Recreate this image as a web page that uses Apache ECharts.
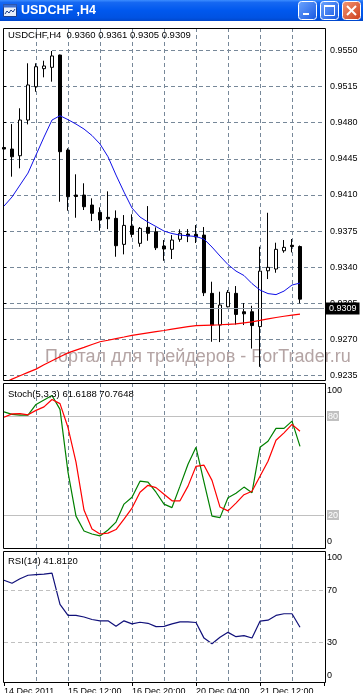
<!DOCTYPE html>
<html><head><meta charset="utf-8">
<script src="https://cdn.jsdelivr.net/npm/echarts@6/dist/echarts.min.js"></script>
<style>html,body{margin:0;padding:0;background:#fff}#c{width:363px;height:693px}</style>
</head><body><div id="c"></div><script>
// ---------------- DATA ----------------
const symbol = 'USDCHF';
const period = 'H4';
const times = [
  '14 Dec 04:00','14 Dec 08:00','14 Dec 12:00','14 Dec 16:00','14 Dec 20:00',
  '15 Dec 00:00','15 Dec 04:00','15 Dec 08:00','15 Dec 12:00','15 Dec 16:00','15 Dec 20:00',
  '16 Dec 00:00','16 Dec 04:00','16 Dec 08:00','16 Dec 12:00','16 Dec 16:00','16 Dec 20:00',
  '19 Dec 00:00','19 Dec 04:00','19 Dec 08:00','19 Dec 12:00','19 Dec 16:00','19 Dec 20:00',
  '20 Dec 00:00','20 Dec 04:00','20 Dec 08:00','20 Dec 12:00','20 Dec 16:00','20 Dec 20:00',
  '21 Dec 00:00','21 Dec 04:00','21 Dec 08:00','21 Dec 12:00','21 Dec 16:00','21 Dec 20:00',
  '22 Dec 00:00','22 Dec 04:00','22 Dec 08:00'
];
const timeTickLabels = ['14 Dec 2011','15 Dec 12:00','16 Dec 20:00','20 Dec 04:00','21 Dec 12:00'];
const open  = [0.94560,0.94545,0.94480,0.94826,0.95149,0.95324,0.95337,0.95456,0.94535,0.94099,0.94099,0.94002,0.93931,0.93883,0.93873,0.93621,0.93799,0.93631,0.93786,0.93743,0.93605,0.93573,0.93670,0.93721,0.93718,0.93711,0.93146,0.92839,0.93016,0.93146,0.92968,0.92968,0.92824,0.93365,0.93382,0.93559,0.93612,0.9360];
const high  = [0.94616,0.94787,0.94940,0.95376,0.95376,0.95401,0.95495,0.95460,0.94552,0.94300,0.94213,0.94067,0.93980,0.94135,0.93950,0.93905,0.93912,0.93789,0.93992,0.93786,0.93663,0.93711,0.93767,0.93769,0.93808,0.93789,0.93259,0.93162,0.93178,0.93217,0.93052,0.93026,0.93598,0.93927,0.93637,0.93663,0.93673,0.9361];
const low   = [0.94448,0.94277,0.94358,0.94784,0.95100,0.95240,0.95198,0.94034,0.93947,0.93879,0.93954,0.93847,0.93753,0.93769,0.93501,0.93524,0.93689,0.93598,0.93656,0.93566,0.93462,0.93479,0.93646,0.93643,0.93634,0.93120,0.92677,0.92674,0.93010,0.92844,0.92839,0.92611,0.92434,0.93285,0.93346,0.93540,0.93543,0.9305];
const close = [0.94545,0.94470,0.94826,0.95166,0.95343,0.95350,0.95447,0.94519,0.94083,0.94085,0.93986,0.93922,0.93857,0.93869,0.93608,0.93805,0.93718,0.93776,0.93728,0.93588,0.93576,0.93663,0.93728,0.93702,0.93692,0.93152,0.92839,0.93033,0.93156,0.92942,0.92948,0.92834,0.93362,0.93398,0.93573,0.93592,0.93600,0.9309];
const maFast = [0.93992,0.94080,0.94196,0.94312,0.94487,0.94661,0.94826,0.94868,0.94830,0.94787,0.94739,0.94676,0.94594,0.94470,0.94293,0.94128,0.93973,0.93886,0.93837,0.93794,0.93750,0.93726,0.93711,0.93704,0.93697,0.93672,0.93595,0.93508,0.93425,0.93362,0.93319,0.93241,0.93178,0.93144,0.93134,0.93168,0.93227,0.93246];
const maSlow = [0.92276,0.92315,0.92347,0.92380,0.92412,0.92454,0.92493,0.92531,0.92569,0.92596,0.92623,0.92651,0.92677,0.92692,0.92708,0.92723,0.92739,0.92751,0.92763,0.92775,0.92786,0.92799,0.92811,0.92823,0.92833,0.92836,0.92839,0.92842,0.92846,0.92850,0.92860,0.92870,0.92884,0.92899,0.92912,0.92924,0.92936,0.92945];
const stochMain = [82.5,81,80.5,80.5,87,89.7,92.4,84,46,19.3,10.3,8.5,7.3,10.9,15.7,26.6,30.8,40.5,39.9,33.8,26.6,24.5,37.5,50.8,61,39.9,19.3,18.4,30.5,33.2,36.9,33.5,61,64.7,72.5,72.5,76.9,61.6188];
const stochSignal = [79.2,81.3,81.4,80.7,83.4,85.5,90,87.5,73,52,23,11.5,8.5,9,11.2,17.5,24.2,33.8,38,36.6,32.6,28.6,28.6,37.5,49.5,50.2,41,24.8,22.5,27.2,32.3,34.4,43.5,52.6,65.3,69.8,74.9,70.7648];
const rsi = [77.7,75.4,78.8,81.5,81.9,82.3,83.1,59.2,50.8,50.8,49.6,47.7,46.7,46.7,42.5,46.7,44.4,45.6,44.8,42.3,42.5,44.4,45.9,45.9,45.4,33.5,29.2,34.1,37.9,34.6,35.4,33.6,46.4,47.2,50.8,52.1,52.1,41.8120];
const priceAxis = {min: 0.9235, max: 0.9550, step: 0.0035};
const stochLevels = [80, 20];
const rsiLevels = [70, 30];
const watermark = 'Портал для трейдеров - ForTrader.ru';

// ---------------- LAYOUT ----------------
const FONT = '"Liberation Sans", Arial, sans-serif';
const GRID_COLOR = '#778899';
const padCats = ['', '', ''];
const xCats = times.concat(padCats);
const last = times.length - 1;
const pxPerUnit = 325 / (priceAxis.max - priceAxis.min);
const mainMax = priceAxis.max + (50.5 - 28) / pxPerUnit;
const mainMin = priceAxis.min - (380 - 375.5) / pxPerUnit;
const vSplit = {show: true, interval: (i) => i > 0 && i < xCats.length - 1 && i % 4 === 0,
  lineStyle: {color: GRID_COLOR, type: [4, 3], width: 1}};

function catAxis(gi, extra) {
  return Object.assign({type: 'category', gridIndex: gi, data: xCats, boundaryGap: false,
    axisLine: {show: false}, axisTick: {show: false}, axisLabel: {show: false}, splitLine: vSplit}, extra || {});
}

const hdr = `${symbol},${period}  ${open[last].toFixed(4)} ${high[last].toFixed(4)} ${low[last].toFixed(4)} ${close[last].toFixed(4)}`;
const stochHdr = `Stoch(5,3,3) ${stochMain[last].toFixed(4)} ${stochSignal[last].toFixed(4)}`;
const rsiHdr = `RSI(14) ${rsi[last].toFixed(4)}`;

const chart = echarts.init(document.getElementById('c'), null, {renderer: 'canvas'});
const option = {
  animation: false,
  backgroundColor: '#ffffff',
  grid: [
    {left: 4, top: 28, width: 320, height: 352, outerBoundsMode: 'none'},
    {left: 3, top: 50.5, width: 322, height: 325, outerBoundsMode: 'none'},
    {left: 4, top: 383, width: 320, height: 165, outerBoundsMode: 'none'},
    {left: 4, top: 551, width: 320, height: 131, outerBoundsMode: 'none'}
  ],
  xAxis: [
    catAxis(0),
    {type: 'value', gridIndex: 1, min: 0, max: 1, show: false},
    catAxis(2),
    catAxis(3, {
      axisTick: {show: true, interval: 7, length: 4, lineStyle: {color: '#000'}},
      axisLabel: {show: true, interval: 7, align: 'left', margin: 5, color: '#000', fontSize: 9, fontFamily: FONT,
        formatter: (v, i) => (i % 8 === 0 && timeTickLabels[i / 8]) ? timeTickLabels[i / 8] : ''}
    })
  ],
  yAxis: [
    {type: 'value', gridIndex: 0, min: mainMin, max: mainMax, show: false},
    {type: 'value', gridIndex: 1, position: 'right', min: priceAxis.min, max: priceAxis.max, interval: priceAxis.step,
      axisLine: {show: false}, axisTick: {show: true, length: 3, lineStyle: {color: '#000'}},
      axisLabel: {margin: 5, color: '#000', fontSize: 9, fontFamily: FONT, formatter: (v) => v.toFixed(4)},
      splitLine: {show: true, lineStyle: {color: GRID_COLOR, type: [4, 3], width: 1}}},
    {type: 'value', gridIndex: 2, position: 'right', min: 0, max: 100, interval: 20,
      axisLine: {show: false}, axisTick: {show: false}, splitLine: {show: false},
      axisLabel: {margin: 3, color: '#000', fontSize: 9, fontFamily: FONT,
        formatter: (v) => v === 100 ? '{t|100}' : v === 0 ? '{b|0}' : stochLevels.includes(v) ? '{g|' + v + '}' : '',
        rich: {t: {padding: [16, 0, 0, 0], fontSize: 9, fontFamily: FONT, color: '#000'},
               b: {padding: [0, 0, 12, 0], fontSize: 9, fontFamily: FONT, color: '#000'},
               g: {backgroundColor: '#C0C0C0', color: '#FFFFFF', padding: [1, 1, 0, 1], fontSize: 9, fontFamily: FONT}}}},
    {type: 'value', gridIndex: 3, position: 'right', min: 0, max: 100, interval: 10,
      axisLine: {show: false}, axisTick: {show: false}, splitLine: {show: false},
      axisLabel: {margin: 3, color: '#000', fontSize: 9, fontFamily: FONT,
        formatter: (v) => v === 100 ? '{t|100}' : v === 0 ? '{b|0}' : rsiLevels.includes(v) ? String(v) : '',
        rich: {t: {padding: [14, 0, 0, 0], fontSize: 9, fontFamily: FONT, color: '#000'},
               b: {padding: [0, 0, 12, 0], fontSize: 9, fontFamily: FONT, color: '#000'}}}}
  ],
  series: [
    {type: 'candlestick', xAxisIndex: 0, yAxisIndex: 0, barWidth: 4,
      data: times.map((t, i) => [open[i], close[i], low[i], high[i]]),
      itemStyle: {color: '#FFFFFF', color0: '#000000', borderColor: '#000000', borderColor0: '#000000', borderWidth: 1},
      emphasis: {disabled: true}, silent: true,
      markLine: {silent: true, symbol: ['none', 'none'], animation: false,
        data: [{yAxis: close[last]}],
        lineStyle: {color: '#8E98A4', type: 'solid', width: 1},
        label: {show: true, position: 'end', distance: 2, formatter: close[last].toFixed(4),
          backgroundColor: '#000', color: '#fff', padding: [2, 3, 1, 3], fontSize: 9, fontFamily: FONT}}},
    {type: 'line', xAxisIndex: 0, yAxisIndex: 0, data: maFast, showSymbol: false, silent: true,
      lineStyle: {color: '#1010E8', width: 1}},
    {type: 'line', xAxisIndex: 0, yAxisIndex: 0, data: maSlow, showSymbol: false, silent: true,
      lineStyle: {color: '#FF0000', width: 1.2}},
    {type: 'line', xAxisIndex: 2, yAxisIndex: 2, data: stochMain, showSymbol: false, silent: true, z: 3,
      lineStyle: {color: '#008000', width: 1.2},
      markLine: {silent: true, symbol: ['none', 'none'], animation: false, label: {show: false},
        lineStyle: {color: '#C0C0C0', type: 'solid', width: 1}, z: 1,
        data: stochLevels.map(v => ({yAxis: v}))}},
    {type: 'line', xAxisIndex: 2, yAxisIndex: 2, data: stochSignal, showSymbol: false, silent: true, z: 3,
      lineStyle: {color: '#FF0000', width: 1.2}},
    {type: 'line', xAxisIndex: 3, yAxisIndex: 3, data: rsi, showSymbol: false, silent: true, z: 3,
      lineStyle: {color: '#10107A', width: 1.2},
      markLine: {silent: true, symbol: ['none', 'none'], animation: false, label: {show: false},
        lineStyle: {color: '#C0C0C0', type: [4, 3], width: 1},
        data: rsiLevels.map(v => ({yAxis: v}))}}
  ],
  graphic: [
    // watermark
    {type: 'text', x: 45, y: 357, z: 1, silent: true,
      style: {text: watermark, fill: '#B4A4A4', font: '18px ' + FONT, verticalAlign: 'middle', align: 'left'}},
    // title bar
    {type: 'rect', z: 50, shape: {x: 0, y: 0, width: 363, height: 21},
      style: {fill: new echarts.graphic.LinearGradient(0, 0, 0, 1, [
        {offset: 0, color: '#3C8DFF'}, {offset: 0.12, color: '#1668F2'}, {offset: 0.5, color: '#0058EE'},
        {offset: 0.85, color: '#0052E2'}, {offset: 1, color: '#0046CA'}])}},
    {type: 'text', x: 21, y: 11, z: 51,
      style: {text: symbol + ' ,' + period, fill: '#FFFFFF', font: 'bold 12.5px ' + FONT, verticalAlign: 'middle',
        textShadowColor: '#0A2A80', textShadowOffsetX: 1, textShadowOffsetY: 1, textShadowBlur: 0}},
    // icon
    {type: 'rect', z: 51, shape: {x: 3.5, y: 4.5, width: 13, height: 12}, style: {fill: '#E6EEFA', stroke: '#1E3F8A', lineWidth: 1}},
    {type: 'rect', z: 52, shape: {x: 3.5, y: 4.5, width: 13, height: 3}, style: {fill: '#3C6FD0'}},
    {type: 'polyline', z: 52, shape: {points: [[5, 14], [7, 11], [9, 13], [11, 10], [13, 12], [15, 9]]}, style: {stroke: '#1E3F8A', lineWidth: 1, fill: 'none'}},
    // minimize
    {type: 'rect', z: 51, shape: {x: 298.5, y: 1.5, width: 18, height: 18, r: 3},
      style: {fill: new echarts.graphic.LinearGradient(0, 0, 1, 1, [{offset: 0, color: '#6EA6FF'}, {offset: 1, color: '#1656E0'}]), stroke: '#FFFFFF', lineWidth: 1}},
    {type: 'rect', z: 52, shape: {x: 303, y: 13, width: 6, height: 2}, style: {fill: '#FFFFFF'}},
    // maximize
    {type: 'rect', z: 51, shape: {x: 320.5, y: 1.5, width: 18, height: 18, r: 3},
      style: {fill: new echarts.graphic.LinearGradient(0, 0, 1, 1, [{offset: 0, color: '#6EA6FF'}, {offset: 1, color: '#1656E0'}]), stroke: '#FFFFFF', lineWidth: 1}},
    {type: 'rect', z: 52, shape: {x: 324.5, y: 5.5, width: 10, height: 10}, style: {fill: 'none', stroke: '#FFFFFF', lineWidth: 1}},
    {type: 'rect', z: 52, shape: {x: 324, y: 5, width: 11, height: 2}, style: {fill: '#FFFFFF'}},
    // close
    {type: 'rect', z: 51, shape: {x: 342.5, y: 1.5, width: 18, height: 18, r: 3},
      style: {fill: new echarts.graphic.LinearGradient(0, 0, 1, 1, [{offset: 0, color: '#F49A78'}, {offset: 1, color: '#CC3A16'}]), stroke: '#FFFFFF', lineWidth: 1}},
    {type: 'line', z: 52, shape: {x1: 347, y1: 6, x2: 356, y2: 15}, style: {stroke: '#FFFFFF', lineWidth: 2}},
    {type: 'line', z: 52, shape: {x1: 356, y1: 6, x2: 347, y2: 15}, style: {stroke: '#FFFFFF', lineWidth: 2}},
    // panel borders
    {type: 'rect', z: 100, silent: true, shape: {x: 3.5, y: 28.5, width: 322, height: 352}, style: {fill: 'none', stroke: '#000', lineWidth: 1}},
    {type: 'rect', z: 100, silent: true, shape: {x: 3.5, y: 383.5, width: 322, height: 165}, style: {fill: 'none', stroke: '#000', lineWidth: 1}},
    {type: 'rect', z: 100, silent: true, shape: {x: 3.5, y: 551.5, width: 322, height: 131}, style: {fill: 'none', stroke: '#000', lineWidth: 1}},
    // panel headers
    {type: 'text', x: 8, y: 35.5, z: 101, style: {text: hdr, fill: '#000', font: '9.5px ' + FONT, verticalAlign: 'middle'}},
    {type: 'text', x: 8, y: 394, z: 101, style: {text: stochHdr, fill: '#000', font: '9.5px ' + FONT, verticalAlign: 'middle'}},
    {type: 'text', x: 8, y: 561, z: 101, style: {text: rsiHdr, fill: '#000', font: '9.5px ' + FONT, verticalAlign: 'middle'}}
  ]
};
chart.setOption(option);
</script></body></html>
